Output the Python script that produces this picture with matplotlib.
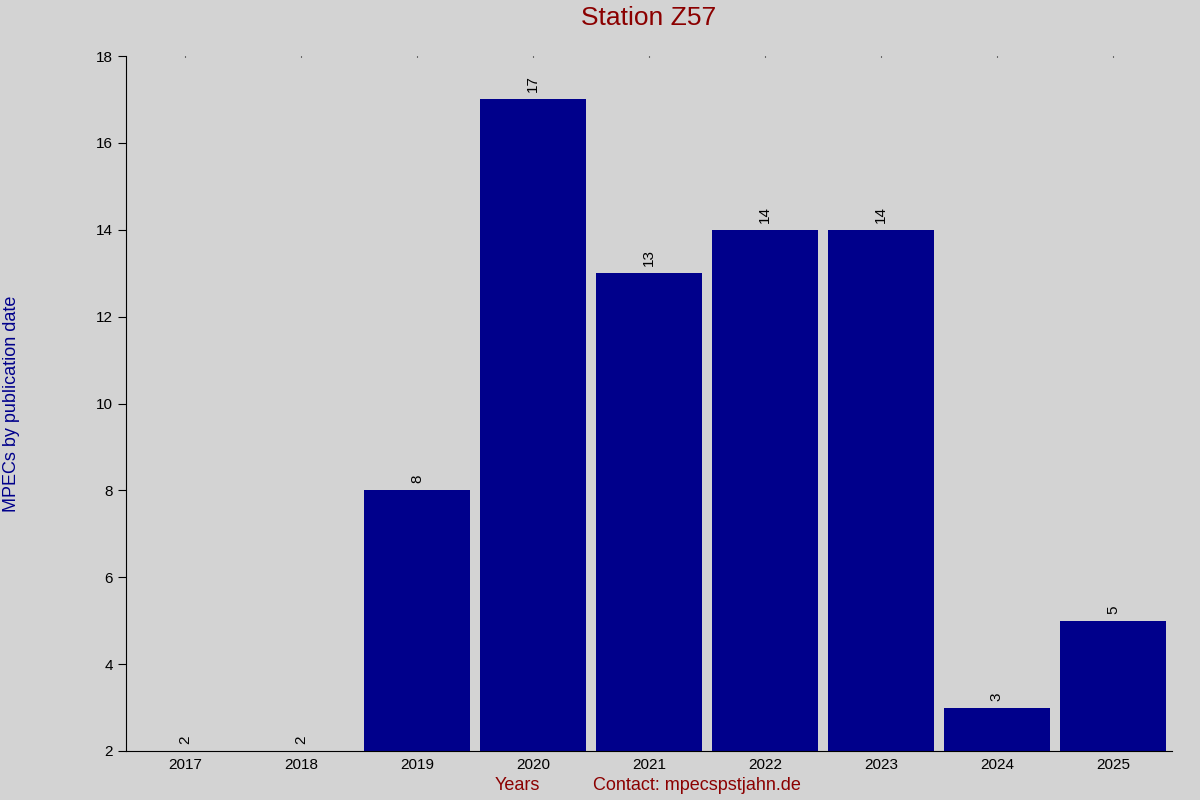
import matplotlib
matplotlib.use("Agg")
import matplotlib.pyplot as plt

plt.rcParams['font.family'] = ['Liberation Sans', 'DejaVu Sans']

# MPECs per year for station Z57
years = ['2017', '2018', '2019', '2020', '2021', '2022', '2023', '2024', '2025']
counts = [2, 2, 8, 17, 13, 14, 14, 3, 5]

bg = '#d3d3d3'
fig = plt.figure(figsize=(12, 8), dpi=100, facecolor=bg)
ax = fig.add_axes([0.105, 0.06125, 0.8717, 0.86875], facecolor=bg)

x = list(range(len(years)))
bars = ax.bar(x, counts, width=0.91, color='#00008b')
ax.bar_label(bars, rotation=90, padding=5, fontsize=11)

ax.set_xlim(-0.51, len(years) - 0.49)
ax.set_ylim(2, 18)
ax.set_yticks(range(2, 19, 2))
ax.set_xticks(x)
ax.set_xticklabels(years)

for side in ['top', 'right']:
    ax.spines[side].set_visible(False)
ax.tick_params(axis='y', direction='out', length=6, width=0.8, labelsize=11)
ax.tick_params(axis='x', bottom=False, top=True, direction='in', length=1,
               width=0.8, labelsize=11, pad=5)

ax.set_title('Station Z57', color='#8b0000', fontsize=19, pad=22)
fig.text(0.431, 0.012, 'Years', color='#8b0000', fontsize=13, ha='center')
fig.text(0.581, 0.012, 'Contact: mpecspstjahn.de', color='#8b0000', fontsize=13, ha='center')
fig.text(0.01, 0.495, 'MPECs by publication date', color='#00008b', fontsize=13,
         rotation=90, va='center', ha='center')

fig.savefig('out.png', dpi=100, facecolor=bg)
